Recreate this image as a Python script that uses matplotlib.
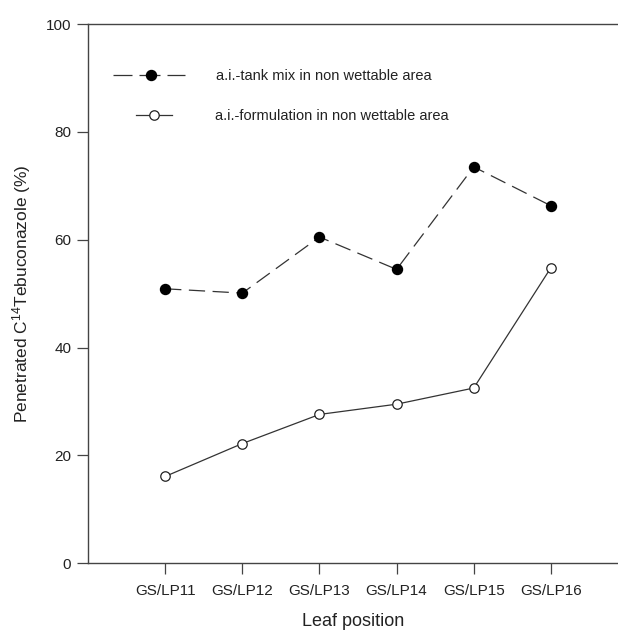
import numpy as np
import matplotlib
matplotlib.use("Agg")
import matplotlib.pyplot as plt

plt.rcParams['font.family'] = ['Liberation Sans', 'DejaVu Sans']
plt.rcParams['mathtext.default'] = 'regular'

leaf_positions = ["GS/LP11", "GS/LP12", "GS/LP13", "GS/LP14", "GS/LP15", "GS/LP16"]
tank_mix = [50.9, 50.1, 60.5, 54.5, 73.5, 66.3]
formulation = [16.1, 22.2, 27.6, 29.5, 32.5, 54.8]
yticks = [0, 20, 40, 60, 80, 100]

x = np.arange(1, len(leaf_positions) + 1)
line_col = '#333333'
axis_col = '#444444'

fig = plt.figure(figsize=(6.18, 6.30), dpi=100)
ax = fig.add_axes([0.1424, 0.1059, 0.8576, 0.856])

l1, = ax.plot(x, tank_mix, color=line_col, lw=0.9, dashes=(13, 6),
              marker='o', ms=7.2, mfc='black', mec='black', zorder=3)
l2, = ax.plot(x, formulation, color=line_col, lw=0.9, linestyle='-',
              marker='o', ms=6.8, mfc='white', mec='#222222', mew=0.9, zorder=3)

ax.set_xlim(0, 6.87)
ax.set_ylim(0, 100)
ax.set_xticks(x)
ax.set_xticklabels(leaf_positions)
ax.set_yticks(yticks)

for side in ['left', 'top', 'bottom']:
    ax.spines[side].set_color(axis_col)
    ax.spines[side].set_linewidth(1.0)
ax.spines['right'].set_visible(False)

ax.tick_params(axis='both', direction='out', length=8, width=0.9,
               color=axis_col, labelsize=11, labelcolor='#222222')
ax.tick_params(axis='y', pad=4)
ax.tick_params(axis='x', pad=7)

ax.set_xlabel("Leaf position", fontsize=13, color='#222222', labelpad=11)
ax.set_ylabel("Penetrated C$^{14}$Tebuconazole (%)", fontsize=12.5,
              color='#222222', labelpad=9)

# two separate legends so each entry keeps its own handle length
leg1 = ax.legend([l1], ["a.i.-tank mix in non wettable area"], loc='center left',
                 bbox_to_anchor=(0.047, 0.9036), frameon=False, fontsize=10.5,
                 handlelength=5.2, handletextpad=1.85, borderpad=0,
                 borderaxespad=0, numpoints=1, labelcolor='#222222')
# dash pattern of the legend sample: dash, short gap, dash through the marker, dash
leg1.get_lines()[0].set_dashes((15.2, 5.6, 16.8, 5.6, 14.4, 50))
ax.add_artist(leg1)
ax.legend([l2], ["a.i.-formulation in non wettable area"], loc='center left',
          bbox_to_anchor=(0.0905, 0.8294), frameon=False, fontsize=10.5,
          handlelength=2.45, handletextpad=2.95, borderpad=0,
          borderaxespad=0, numpoints=1, labelcolor='#222222')

fig.savefig("out.png", dpi=100)
